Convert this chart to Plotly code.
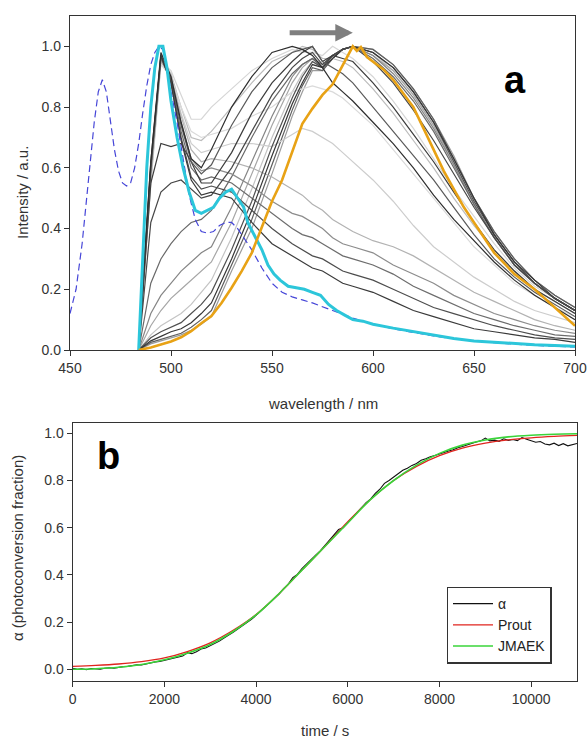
import plotly.graph_objects as go

# ---------------- panel a : normalised emission spectra ----------------
wl = [484, 490, 495, 500, 505, 510, 515, 520, 530, 540, 550, 560, 565, 570, 575,
      580, 585, 590, 600, 610, 620, 630, 640, 650, 660, 670, 680, 690, 700]

# early spectra (495 nm band still dominant)
e1 = [0, 0.62, 0.97, 0.88, 0.69, 0.56, 0.51, 0.52, 0.50, 0.42, 0.35, 0.31, 0.29, 0.27, 0.26,
      0.24, 0.22, 0.21, 0.19, 0.16, 0.13, 0.11, 0.09, 0.07, 0.06, 0.05, 0.04, 0.035, 0.025]
e2 = [0, 0.60, 0.97, 0.88, 0.70, 0.57, 0.53, 0.54, 0.52, 0.46, 0.40, 0.35, 0.33, 0.31, 0.30,
      0.28, 0.26, 0.25, 0.23, 0.20, 0.17, 0.14, 0.12, 0.10, 0.08, 0.065, 0.05, 0.04, 0.035]
e3 = [0, 0.60, 0.96, 0.89, 0.72, 0.60, 0.56, 0.57, 0.55, 0.50, 0.45, 0.40, 0.38, 0.37, 0.35,
      0.33, 0.31, 0.30, 0.28, 0.25, 0.21, 0.18, 0.15, 0.12, 0.10, 0.08, 0.065, 0.05, 0.045]
e4 = [0, 0.58, 0.96, 0.90, 0.75, 0.63, 0.59, 0.60, 0.58, 0.54, 0.49, 0.45, 0.44, 0.42, 0.40,
      0.37, 0.35, 0.34, 0.32, 0.28, 0.25, 0.22, 0.18, 0.15, 0.12, 0.10, 0.08, 0.065, 0.055]
e5 = [0, 0.56, 0.95, 0.90, 0.77, 0.66, 0.62, 0.63, 0.62, 0.60, 0.57, 0.53, 0.51, 0.48, 0.46,
      0.43, 0.41, 0.39, 0.36, 0.34, 0.31, 0.27, 0.23, 0.19, 0.16, 0.13, 0.10, 0.08, 0.065]
e6 = [0, 0.55, 0.95, 0.90, 0.78, 0.68, 0.65, 0.66, 0.68, 0.68, 0.67, 0.71, 0.73, 0.72, 0.70,
      0.68, 0.65, 0.62, 0.56, 0.49, 0.41, 0.34, 0.29, 0.24, 0.20, 0.16, 0.13, 0.11, 0.09]
e7 = [0, 0.54, 0.94, 0.90, 0.80, 0.72, 0.70, 0.71, 0.73, 0.77, 0.80, 0.85, 0.86, 0.87, 0.86,
      0.85, 0.83, 0.80, 0.74, 0.66, 0.58, 0.50, 0.42, 0.34, 0.28, 0.22, 0.18, 0.14, 0.11]

# later spectra (red-shifted band normalised to 1)
l1 = [0, 0.62, 0.98, 0.90, 0.75, 0.63, 0.60, 0.66, 0.80, 0.90, 0.98, 1.00, 0.99, 0.97, 0.93,
      0.88, 0.85, 0.82, 0.75, 0.68, 0.60, 0.51, 0.43, 0.36, 0.29, 0.23, 0.18, 0.14, 0.10]
l2 = [0, 0.60, 0.97, 0.89, 0.74, 0.62, 0.58, 0.61, 0.74, 0.85, 0.93, 0.98, 0.99, 1.00, 0.95,
      0.93, 0.91, 0.88, 0.80, 0.72, 0.64, 0.56, 0.47, 0.38, 0.30, 0.24, 0.19, 0.15, 0.11]
l3 = [0, 0.57, 0.96, 0.91, 0.80, 0.70, 0.69, 0.72, 0.80, 0.88, 0.95, 0.98, 1.00, 0.99, 0.96,
      0.96, 0.95, 0.93, 0.86, 0.78, 0.69, 0.60, 0.50, 0.41, 0.33, 0.26, 0.20, 0.16, 0.12]
l4 = [0, 0.55, 0.95, 0.92, 0.84, 0.76, 0.76, 0.80, 0.86, 0.92, 0.96, 0.99, 0.98, 0.98, 0.97,
      1.00, 0.98, 0.96, 0.90, 0.82, 0.73, 0.63, 0.53, 0.44, 0.35, 0.27, 0.21, 0.17, 0.13]
l5 = [0, 0.55, 0.68, 0.67, 0.68, 0.62, 0.55, 0.55, 0.65, 0.78, 0.88, 0.95, 0.98, 1.00, 0.95,
      0.97, 0.96, 0.95, 0.88, 0.80, 0.71, 0.62, 0.52, 0.42, 0.33, 0.26, 0.20, 0.16, 0.12]
l6 = [0, 0.42, 0.52, 0.55, 0.56, 0.53, 0.50, 0.51, 0.60, 0.72, 0.84, 0.93, 0.96, 0.98, 0.94,
      0.97, 0.99, 1.00, 0.95, 0.88, 0.79, 0.69, 0.58, 0.47, 0.37, 0.28, 0.22, 0.17, 0.13]
l7 = [0, 0.22, 0.30, 0.35, 0.39, 0.42, 0.43, 0.46, 0.57, 0.70, 0.82, 0.91, 0.94, 0.96, 0.93,
      0.97, 0.99, 1.00, 0.96, 0.90, 0.82, 0.72, 0.60, 0.48, 0.37, 0.28, 0.22, 0.17, 0.13]
l8 = [0, 0.12, 0.18, 0.22, 0.26, 0.29, 0.32, 0.34, 0.47, 0.62, 0.77, 0.90, 0.94, 0.96, 0.94,
      0.97, 0.99, 1.00, 0.97, 0.91, 0.83, 0.73, 0.61, 0.48, 0.37, 0.28, 0.22, 0.17, 0.13]
l9 = [0, 0.08, 0.13, 0.17, 0.20, 0.23, 0.26, 0.29, 0.42, 0.58, 0.74, 0.88, 0.93, 0.96, 0.93,
      0.97, 0.99, 1.00, 0.97, 0.92, 0.84, 0.74, 0.61, 0.48, 0.37, 0.28, 0.22, 0.17, 0.13]
l10 = [0, 0.05, 0.08, 0.10, 0.12, 0.15, 0.19, 0.23, 0.37, 0.53, 0.70, 0.85, 0.91, 0.95, 0.93,
       0.97, 0.99, 1.00, 0.98, 0.92, 0.84, 0.74, 0.62, 0.49, 0.38, 0.29, 0.22, 0.17, 0.13]
l11 = [0, 0.04, 0.06, 0.075, 0.09, 0.12, 0.15, 0.19, 0.33, 0.49, 0.67, 0.83, 0.90, 0.95, 0.93,
       0.97, 0.99, 1.00, 0.98, 0.93, 0.85, 0.75, 0.62, 0.49, 0.38, 0.29, 0.22, 0.17, 0.13]
l12 = [0, 0.03, 0.045, 0.06, 0.07, 0.09, 0.12, 0.155, 0.30, 0.46, 0.64, 0.81, 0.88, 0.94, 0.93,
       0.96, 0.99, 1.00, 0.98, 0.93, 0.85, 0.75, 0.63, 0.50, 0.38, 0.29, 0.23, 0.17, 0.13]
l13 = [0, 0.025, 0.035, 0.045, 0.055, 0.075, 0.10, 0.13, 0.28, 0.43, 0.61, 0.79, 0.87, 0.93, 0.92,
       0.96, 0.99, 1.00, 0.99, 0.94, 0.86, 0.76, 0.63, 0.50, 0.39, 0.30, 0.23, 0.18, 0.14]
l14 = [0, 0.02, 0.03, 0.04, 0.05, 0.065, 0.085, 0.11, 0.26, 0.40, 0.58, 0.77, 0.85, 0.92, 0.92,
       0.96, 0.99, 1.00, 0.99, 0.94, 0.86, 0.76, 0.64, 0.50, 0.39, 0.30, 0.23, 0.18, 0.14]

gray_series = [l14, l13, l10, l9, l4, l3, e7, e6, e5, l8, l7, e4, e3,
               l11, l12, l6, l5, l2, e2, e1, l1]
gray_colors = ["#9c9c9c", "#5e5e5e", "#c4c4c4", "#a6a6a6", "#d6d6d6", "#bcbcbc", "#dadada",
               "#cdcdcd", "#b2b2b2", "#858585", "#696969", "#8c8c8c", "#6c6c6c",
               "#505050", "#363636", "#474747", "#3c3c3c", "#5a5a5a", "#4d4d4d", "#3a3a3a", "#2e2e2e"]

# excitation-like spectrum (dashed blue)
wl_ex = [450, 453, 456, 459, 462, 464, 466, 468, 470, 472, 474, 476, 478, 480, 482, 484, 486,
         488, 490, 492, 494, 496, 498, 500, 503, 506, 509, 512, 515, 518, 521, 524, 527, 530,
         533, 536, 540, 545, 550, 555, 560, 565, 570, 580, 590, 600, 610, 620, 630, 640, 650,
         660, 670, 680, 690, 700]
ex = [0.12, 0.20, 0.35, 0.55, 0.75, 0.85, 0.89, 0.85, 0.76, 0.66, 0.59, 0.55, 0.54, 0.55, 0.60,
      0.68, 0.78, 0.87, 0.94, 0.98, 1.00, 0.99, 0.93, 0.85, 0.75, 0.63, 0.51, 0.43, 0.39, 0.385,
      0.39, 0.41, 0.42, 0.42, 0.40, 0.37, 0.33, 0.27, 0.22, 0.19, 0.175, 0.165, 0.155, 0.13,
      0.105, 0.085, 0.07, 0.058, 0.046, 0.037, 0.03, 0.024, 0.019, 0.015, 0.012, 0.01]

# initial emission spectrum (cyan)
wl_cy = [484, 486, 488, 490, 492, 494, 496, 498, 500, 503, 506, 509, 512, 515, 518, 521, 524,
         527, 530, 532, 534, 536, 538, 541, 545, 548, 551, 554, 558, 562, 566, 570, 574, 578,
         582, 586, 590, 595, 600, 610, 620, 630, 640, 650, 660, 670, 680, 690, 700]
cy = [0, 0.30, 0.60, 0.80, 0.93, 1.00, 1.00, 0.93, 0.82, 0.70, 0.60, 0.52, 0.46, 0.45, 0.46,
      0.47, 0.50, 0.52, 0.53, 0.51, 0.49, 0.47, 0.42, 0.38, 0.33, 0.28, 0.25, 0.23, 0.21, 0.205,
      0.20, 0.19, 0.18, 0.15, 0.13, 0.115, 0.10, 0.095, 0.085, 0.072, 0.06, 0.048, 0.038, 0.03,
      0.025, 0.02, 0.017, 0.015, 0.012]

# final emission spectrum (orange)
wl_or = [484, 490, 495, 500, 505, 510, 515, 520, 525, 530, 535, 540, 545, 550, 555, 560, 565,
         570, 575, 580, 585, 588, 590, 592, 594, 597, 600, 605, 610, 615, 620, 625, 630, 635,
         640, 645, 650, 655, 660, 665, 670, 675, 680, 685, 690, 695, 700]
orng = [0, 0.008, 0.018, 0.028, 0.042, 0.062, 0.088, 0.112, 0.155, 0.205, 0.26, 0.32, 0.405,
        0.49, 0.56, 0.65, 0.745, 0.795, 0.84, 0.875, 0.935, 0.975, 1.00, 0.985, 0.998, 0.965,
        0.95, 0.925, 0.89, 0.845, 0.80, 0.73, 0.66, 0.59, 0.53, 0.47, 0.42, 0.37, 0.32, 0.285,
        0.25, 0.225, 0.20, 0.17, 0.14, 0.11, 0.08]

# ---------------- panel b : photoconversion kinetics ----------------
t_fit = [0, 500, 1000, 1500, 2000, 2500, 3000, 3500, 4000, 4500, 5000, 5500, 6000, 6500,
         7000, 7500, 8000, 8500, 9000, 9500, 10000, 10500, 11000]
prout = [0.012, 0.016, 0.022, 0.032, 0.048, 0.075, 0.112, 0.165, 0.232, 0.32, 0.42, 0.52,
         0.625, 0.72, 0.80, 0.86, 0.905, 0.937, 0.958, 0.972, 0.981, 0.987, 0.991]
jmaek = [0.0, 0.002, 0.008, 0.02, 0.04, 0.068, 0.105, 0.16, 0.23, 0.32, 0.42, 0.52, 0.62,
         0.72, 0.80, 0.865, 0.915, 0.95, 0.972, 0.985, 0.992, 0.996, 0.998]

t_meas = list(range(0, 11001, 100))
alpha = [0.004, 0.0, 0.002, -0.002, 0.003, 0.001, 0.0, 0.004, 0.006, 0.004,
         0.009, 0.011, 0.012, 0.016, 0.019, 0.018, 0.023, 0.027, 0.031, 0.033,
         0.037, 0.042, 0.046, 0.051, 0.056, 0.07, 0.066, 0.074, 0.086, 0.09,
         0.1, 0.108, 0.119, 0.132, 0.146, 0.157, 0.17, 0.183, 0.198, 0.212,
         0.228, 0.246, 0.262, 0.279, 0.298, 0.318, 0.342, 0.36, 0.388, 0.402,
         0.426, 0.446, 0.468, 0.484, 0.502, 0.524, 0.545, 0.566, 0.592, 0.6,
         0.62, 0.644, 0.664, 0.685, 0.706, 0.722, 0.745, 0.763, 0.788, 0.8,
         0.815, 0.83, 0.843, 0.852, 0.864, 0.872, 0.886, 0.892, 0.901, 0.906,
         0.913, 0.92, 0.925, 0.93, 0.939, 0.944, 0.951, 0.955, 0.963, 0.968,
         0.98, 0.968, 0.971, 0.966, 0.977, 0.97, 0.974, 0.969, 0.982, 0.975,
         0.97, 0.962, 0.965, 0.955, 0.951, 0.958, 0.948, 0.956, 0.947, 0.953,
         0.957]

fig = go.Figure()

for ys, c in zip(gray_series, gray_colors):
    fig.add_trace(go.Scatter(x=wl, y=ys, mode="lines", line=dict(color=c, width=1.2),
                             showlegend=False, hoverinfo="skip", xaxis="x", yaxis="y"))
fig.add_trace(go.Scatter(x=wl_ex, y=ex, mode="lines", showlegend=False, xaxis="x", yaxis="y",
                         line=dict(color="#4646d8", width=1.2, dash="7px,4px")))
fig.add_trace(go.Scatter(x=wl_cy, y=cy, mode="lines", showlegend=False, xaxis="x", yaxis="y",
                         line=dict(color="#2cc6da", width=3)))
fig.add_trace(go.Scatter(x=wl_or, y=orng, mode="lines", showlegend=False, xaxis="x", yaxis="y",
                         line=dict(color="#e8a215", width=2.6)))

fig.add_trace(go.Scatter(x=t_meas, y=alpha, mode="lines", name="α", xaxis="x2", yaxis="y2",
                         line=dict(color="#111111", width=1.1)))
fig.add_trace(go.Scatter(x=t_fit, y=prout, mode="lines", name="Prout", xaxis="x2", yaxis="y2",
                         line=dict(color="#e0241e", width=1.3, shape="spline")))
fig.add_trace(go.Scatter(x=t_fit, y=jmaek, mode="lines", name="JMAEK", xaxis="x2", yaxis="y2",
                         line=dict(color="#3ad43a", width=1.6, shape="spline")))

ax_style = dict(showline=True, mirror=True, linecolor="#333333", linewidth=1.3,
                ticks="outside", ticklen=5, tickcolor="#333333", showgrid=False,
                zeroline=False, automargin=False, tickfont=dict(size=14, color="#333333"))

fig.update_layout(
    width=588, height=740,
    margin=dict(l=0, r=0, t=0, b=0),
    paper_bgcolor="white", plot_bgcolor="white",
    font=dict(family="Liberation Sans, Arial, sans-serif", color="#333333"),
    xaxis=dict(domain=[70 / 588, 575 / 588], anchor="y", range=[450, 700],
               tickvals=[450, 500, 550, 600, 650, 700], **ax_style),
    yaxis=dict(domain=[1 - 350 / 740, 1 - 16 / 740], anchor="x", range=[0, 1.1],
               tickvals=[0, 0.2, 0.4, 0.6, 0.8, 1.0], tickformat=".1f", **ax_style),
    xaxis2=dict(domain=[72.7 / 588, 577 / 588], anchor="y2", range=[0, 11000],
                tickvals=[0, 2000, 4000, 6000, 8000, 10000],
                ticktext=["0", "2000", "4000", "6000", "8000", "10000"], **ax_style),
    yaxis2=dict(domain=[1 - 681 / 740, 1 - 422.7 / 740], anchor="x2", range=[-0.05, 1.045],
                tickvals=[0, 0.2, 0.4, 0.6, 0.8, 1.0], tickformat=".1f", **ax_style),
    legend=dict(x=446.7 / 588, y=1 - 586.7 / 740, xanchor="left", yanchor="top",
                bgcolor="white", bordercolor="#333333", borderwidth=1.3, itemwidth=40,
                font=dict(size=14, color="#222222"), tracegroupgap=0),
)

ann = [
    dict(text="Intensity / a.u.", x=22 / 588, y=1 - 193 / 740, textangle=-90, font=dict(size=15)),
    dict(text="wavelength / nm", x=323 / 588, y=1 - 403 / 740, font=dict(size=15)),
    dict(text="α (photoconversion fraction)", x=17 / 588, y=1 - 548 / 740, textangle=-90,
         font=dict(size=15)),
    dict(text="time / s", x=325 / 588, y=1 - 730 / 740, font=dict(size=15)),
    dict(text="<b>a</b>", x=515 / 588, y=1 - 80 / 740, font=dict(size=38, color="black")),
    dict(text="<b>b</b>", x=108 / 588, y=1 - 456 / 740, font=dict(size=38, color="black")),
]
for a in ann:
    fig.add_annotation(xref="paper", yref="paper", showarrow=False,
                       xanchor="center", yanchor="middle", **a)

# shift arrow
fig.add_annotation(x=590, y=1.045, ax=558, ay=1.045, xref="x", yref="y", axref="x", ayref="y",
                   text="", showarrow=True, arrowhead=2, arrowsize=0.7, arrowwidth=5,
                   arrowcolor="#7f7f7f")

# the page's default body margin would push the 588x740 figure off the window
fig.write_html("out.html", config={"displayModeBar": False},
               post_script="document.body.style.margin = '0px';")
